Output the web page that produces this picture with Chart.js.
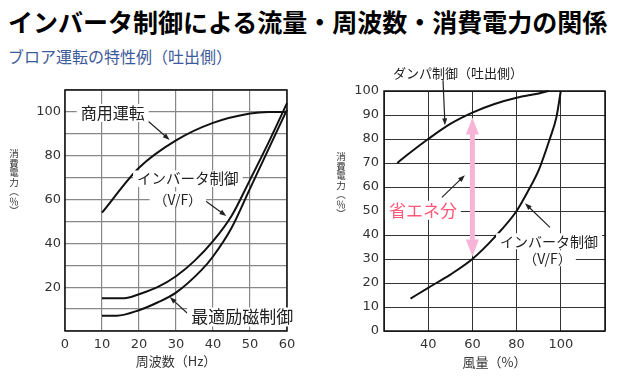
<!DOCTYPE html>
<html>
<head>
<meta charset="utf-8">
<script src="https://cdn.jsdelivr.net/npm/chart.js@4.4.1/dist/chart.umd.min.js"></script>
<style>
body { margin:0; background:#fff; width:621px; height:382px; overflow:hidden; position:relative; font-family:"Noto Sans CJK JP", sans-serif; }
#title { position:absolute; left:8px; top:9px; font-size:25px; font-weight:bold; line-height:1; color:#000; white-space:nowrap; }
#subtitle { position:absolute; left:8px; top:48px; font-size:16px; line-height:1; color:#3d5a9a; white-space:nowrap; }
.ytitle { position:absolute; width:12px; text-align:center; font-size:9.5px; line-height:9.5px; color:#333; }
.ytitle span { display:block; }
.wrap { position:absolute; top:0; height:382px; }
</style>
</head>
<body>
<div id="title">インバータ制御による流量・周波数・消費電力の関係</div>
<div id="subtitle">ブロア運転の特性例（吐出側）</div>
<div class="wrap" style="left:0;width:310px"><canvas id="left-chart" width="310" height="382"></canvas></div>
<div class="wrap" style="left:310px;width:311px"><canvas id="right-chart" width="311" height="382"></canvas></div>
<div class="ytitle" id="ytitle-left" style="left:8px;top:149px"></div>
<div class="ytitle" id="ytitle-right" style="left:335px;top:152px"></div>
<script>
// left: frequency vs power
const hzCommercial = [10, 20, 30, 40, 50, 55, 60];
const pwrCommercial = [54, 74.5, 87, 95, 99.3, 100, 100];
const hzVF = [10, 16, 20, 25, 30, 35, 40, 45, 50, 55, 60];
const pwrVF = [15, 15, 16.8, 20, 25, 32, 41, 52.5, 69, 86, 104];
const hzOptimal = [10, 14, 20, 25, 30, 37, 40, 45, 50, 55, 60];
const pwrOptimal = [7, 7, 9.5, 13, 17.5, 28, 34, 47, 65, 83, 101];

// right: air flow vs power
const flowDamper = [26, 30, 40, 50, 60, 70, 80, 90, 94.5];
const pwrDamper = [70, 73, 80, 86.3, 91, 94.6, 97.2, 99, 100];
const flowInverter = [32, 40, 50, 60, 70, 80, 85, 90, 95, 98, 100];
const pwrInverter = [13.5, 18, 23.5, 30, 39, 50, 58, 67, 80, 89, 100];

const tickFont = { family: 'DejaVu Sans', size: 13 };
const jpFont = '"Noto Sans CJK JP", sans-serif';

// stacked vertical axis titles
const yTitleChars = ['消', '費', '電', '力', '︵', '％', '︶'];
['ytitle-left', 'ytitle-right'].forEach(id => {
    document.getElementById(id).innerHTML = yTitleChars.map(c => `<span>${c}</span>`).join('');
});

function toPoints(xs, ys) {
    return xs.map((x, i) => ({ x: x, y: ys[i] }));
}

function curve(xs, ys) {
    return {
        data: toPoints(xs, ys),
        borderColor: '#111',
        borderWidth: 2,
        pointRadius: 0,
        fill: false,
        cubicInterpolationMode: 'monotone',
        clip: false
    };
}

function drawArrow(ctx, x1, y1, x2, y2, color, width, headLen, headW) {
    const ang = Math.atan2(y2 - y1, x2 - x1);
    ctx.save();
    ctx.strokeStyle = color;
    ctx.fillStyle = color;
    ctx.lineWidth = width;
    ctx.beginPath();
    ctx.moveTo(x1, y1);
    ctx.lineTo(x2 - Math.cos(ang) * headLen * 0.8, y2 - Math.sin(ang) * headLen * 0.8);
    ctx.stroke();
    ctx.translate(x2, y2);
    ctx.rotate(ang);
    ctx.beginPath();
    ctx.moveTo(0, 0);
    ctx.lineTo(-headLen, -headW / 2);
    ctx.lineTo(-headLen, headW / 2);
    ctx.closePath();
    ctx.fill();
    ctx.restore();
}

const notesPlugin = {
    id: 'notes',
    beforeDatasetsDraw(chart, args, opts) {
        const a = chart.chartArea, ctx = chart.ctx;
        const xs = chart.scales.x, ys = chart.scales.y;
        ctx.save();
        ctx.strokeStyle = '#111';
        ctx.lineWidth = 1.5;
        ctx.strokeRect(a.left, a.top, a.right - a.left, a.bottom - a.top);
        ctx.restore();
        // pink double arrow
        (opts.bands || []).forEach(b => {
            const x = xs.getPixelForValue(b.x);
            const top = ys.getPixelForValue(b.y2), bot = ys.getPixelForValue(b.y1);
            const mid = (top + bot) / 2;
            drawArrow(ctx, x, mid, x, top, '#f8b4d6', 5, 17, 13);
            drawArrow(ctx, x, mid, x, bot, '#f8b4d6', 5, 17, 13);
        });
    },
    afterDatasetsDraw(chart, args, opts) {
        const ctx = chart.ctx, xs = chart.scales.x, ys = chart.scales.y;
        (opts.arrows || []).forEach(p => {
            drawArrow(ctx, xs.getPixelForValue(p.x1), ys.getPixelForValue(p.y1),
                xs.getPixelForValue(p.x2), ys.getPixelForValue(p.y2), '#222', 1.2, 7, 5);
        });
        (opts.labels || []).forEach(l => {
            const x = xs.getPixelForValue(l.x), y = ys.getPixelForValue(l.y);
            ctx.save();
            ctx.font = l.size + 'px ' + jpFont;
            const w = ctx.measureText(l.text).width;
            if (l.bg !== false) {
                ctx.fillStyle = '#fff';
                ctx.fillRect(x - w / 2 - 4, y - l.size / 2 - 1, w + 8, l.size + 2);
            }
            ctx.fillStyle = l.color || '#222';
            ctx.textAlign = 'center';
            ctx.textBaseline = 'middle';
            ctx.fillText(l.text, x, y);
            ctx.restore();
        });
    }
};

new Chart(document.getElementById('left-chart'), {
    type: 'line',
    data: {
        datasets: [
            curve(hzCommercial, pwrCommercial),
            curve(hzVF, pwrVF),
            curve(hzOptimal, pwrOptimal)
        ]
    },
    options: {
        responsive: false,
        animation: false,
        layout: { padding: { top: 90, right: 23, left: 0, bottom: 0 } },
        plugins: {
            legend: { display: false },
            tooltip: { enabled: false },
            notes: {
                labels: [
                    { x: 12.9, y: 99.5, text: '商用運転', size: 16 },
                    { x: 33.2, y: 69.5, text: 'インバータ制御', size: 14.5 },
                    { x: 30.5, y: 60, text: '（V/F）', size: 14 },
                    { x: 47.9, y: 6.4, text: '最適励磁制御', size: 17 }
                ],
                arrows: [
                    { x1: 22.1, y1: 96.3, x2: 28.3, y2: 87.2 },
                    { x1: 36.5, y1: 61.2, x2: 43.6, y2: 52.5 },
                    { x1: 33, y1: 8.2, x2: 28.3, y2: 15.5 }
                ]
            }
        },
        scales: {
            x: {
                type: 'linear', min: 0, max: 60,
                afterFit(scale) { scale.height = 51; },
                grid: { color: '#888', lineWidth: 1.2, drawTicks: false },
                border: { display: false },
                ticks: { stepSize: 10, autoSkip: false, padding: 6, color: '#333', font: tickFont, maxRotation: 0 },
                title: { display: true, text: '周波数（Hz）', color: '#333', font: { family: jpFont, size: 13 }, padding: { top: 0, bottom: 13 } }
            },
            y: {
                type: 'linear', min: 0, max: 110,
                afterFit(scale) { scale.width = 65; },
                grid: { color: '#888', lineWidth: 1.2, drawTicks: false },
                border: { display: false },
                ticks: {
                    stepSize: 10, autoSkip: false, padding: 4, color: '#333', font: tickFont,
                    callback: v => (v > 0 && v <= 100 && v % 20 === 0) ? v : ''
                }
            }
        }
    },
    plugins: [notesPlugin]
});

new Chart(document.getElementById('right-chart'), {
    type: 'line',
    data: {
        datasets: [
            curve(flowDamper, pwrDamper),
            curve(flowInverter, pwrInverter)
        ]
    },
    options: {
        responsive: false,
        animation: false,
        layout: { padding: { top: 91, right: 16, left: 0, bottom: 0 } },
        plugins: {
            legend: { display: false },
            tooltip: { enabled: false },
            notes: {
                labels: [
                    { x: 53.5, y: 107.5, text: 'ダンパ制御（吐出側）', size: 13, bg: false },
                    { x: 37.6, y: 50.3, text: '省エネ分', size: 17, color: '#ff5878' },
                    { x: 94.7, y: 37.4, text: 'インバータ制御', size: 14 },
                    { x: 94, y: 30.3, text: '（V/F）', size: 14 }
                ],
                arrows: [
                    { x1: 46.7, y1: 104.5, x2: 47.6, y2: 85.7 },
                    { x1: 46.2, y1: 55.7, x2: 56.6, y2: 64.9 },
                    { x1: 95.1, y1: 43.2, x2: 83.8, y2: 53.2 }
                ],
                bands: [{ x: 60, y1: 31, y2: 89 }]
            }
        },
        scales: {
            x: {
                type: 'linear', min: 20, max: 120,
                afterFit(scale) { scale.height = 51; },
                grid: { color: '#333', lineWidth: 1, drawTicks: false },
                border: { display: false },
                ticks: {
                    stepSize: 20, autoSkip: false, padding: 6, color: '#333', font: tickFont, maxRotation: 0,
                    callback: v => (v >= 40 && v <= 100) ? v : ''
                },
                title: { display: true, text: '風量（%）', color: '#333', font: { family: jpFont, size: 13 }, padding: { top: 0, bottom: 12 } }
            },
            y: {
                type: 'linear', min: 0, max: 100,
                afterFit(scale) { scale.width = 74; },
                grid: { color: '#333', lineWidth: 1, drawTicks: false },
                border: { display: false },
                ticks: { stepSize: 10, autoSkip: false, padding: 5, color: '#333', font: tickFont }
            }
        }
    },
    plugins: [notesPlugin]
});
</script>
</body>
</html>
